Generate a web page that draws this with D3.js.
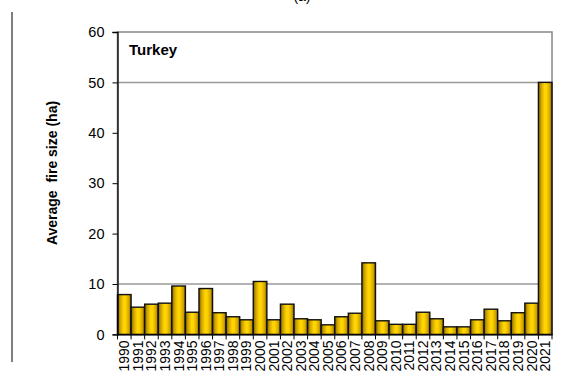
<!DOCTYPE html>
<html><head><meta charset="utf-8">
<script src="https://cdn.jsdelivr.net/npm/d3@7"></script>
<style>body{margin:0;background:#fff}svg{display:block}</style>
</head><body>
<script>
const years = ["1990","1991","1992","1993","1994","1995","1996","1997","1998","1999","2000","2001","2002","2003","2004","2005","2006","2007","2008","2009","2010","2011","2012","2013","2014","2015","2016","2017","2018","2019","2020","2021"];
const avgFireSize = [7.9,5.4,6.0,6.2,9.6,4.4,9.1,4.3,3.5,2.9,10.5,2.9,6.0,3.1,2.9,1.9,3.5,4.2,14.2,2.7,2.0,2.0,4.4,3.1,1.5,1.5,2.9,5.0,2.7,4.3,6.2,50.0];
const yTicks = [0,10,20,30,40,50,60];
const gridValues = [10,50];

const W = 581, H = 383;
const m = {left:117.5, right:552, top:32, bottom:334.4};
const FONT = "Liberation Sans, Arial, sans-serif";
const svg = d3.select("body").append("svg").attr("width",W).attr("height",H);

const defs = svg.append("defs");
const g = defs.append("linearGradient").attr("id","gold").attr("x1","0").attr("x2","1").attr("y1","0").attr("y2","0");
[["0%","#7a5f00"],["20%","#d0a400"],["45%","#ffd600"],["60%","#ffd200"],["85%","#cfa300"],["100%","#6e5500"]]
  .forEach(([o,c])=>g.append("stop").attr("offset",o).attr("stop-color",c));

const x = d3.scaleBand().domain(years).range([m.left,m.right]).padding(0);
const y = d3.scaleLinear().domain([0,60]).range([m.bottom,m.top]);

// left decorative line
svg.append("line").attr("x1",12).attr("x2",12).attr("y1",12).attr("y2",362).attr("stroke","#000").attr("stroke-width",1);

// partial title (clipped at the top edge, as in the reference)
svg.append("text").attr("x",302).attr("y",0.5).attr("text-anchor","middle")
  .attr("font-family",FONT).attr("font-size",14).text("(a)");

// frame
svg.append("rect").attr("x",m.left).attr("y",m.top).attr("width",m.right-m.left).attr("height",m.bottom-m.top)
  .attr("fill","none").attr("stroke","#888").attr("stroke-width",1.5);

// gridlines
svg.selectAll(".grid").data(gridValues).join("line")
  .attr("x1",m.left).attr("x2",m.right).attr("y1",d=>y(d)).attr("y2",d=>y(d))
  .attr("stroke","#999").attr("stroke-width",1.5);

// bars
svg.selectAll(".bar").data(years).join("rect")
  .attr("x",d=>x(d)).attr("width",x.bandwidth())
  .attr("y",(d,i)=>y(avgFireSize[i])).attr("height",(d,i)=>y(0)-y(avgFireSize[i]))
  .attr("fill","url(#gold)").attr("stroke","#111").attr("stroke-width",1.4);

// y axis
const yAxis = svg.append("g").attr("transform",`translate(${m.left},0)`)
  .call(d3.axisLeft(y).tickValues(yTicks).tickSize(5).tickPadding(8));
yAxis.select(".domain").attr("stroke","#000").attr("stroke-width",1.3);
yAxis.selectAll("line").attr("stroke","#000");
yAxis.selectAll("text").attr("font-family",FONT).attr("font-size",14.5).attr("fill","#000");

// x axis
const xAxis = svg.append("g").attr("transform",`translate(0,${m.bottom})`)
  .call(d3.axisBottom(x).tickSize(5).tickSizeOuter(0));
xAxis.select(".domain").attr("stroke","#000").attr("stroke-width",1.3);
xAxis.selectAll(".tick line").attr("stroke","#000").attr("transform",`translate(${-x.bandwidth()/2},0)`);
xAxis.selectAll("text").attr("font-family",FONT).attr("font-size",14).attr("fill","#000")
  .attr("transform","rotate(-90)").attr("text-anchor","end").attr("x",-6).attr("y",0).attr("dy","0.35em");
xAxis.append("line").attr("x1",m.right).attr("x2",m.right).attr("y1",0).attr("y2",5).attr("stroke","#000");

// y axis title
svg.append("text").attr("transform","translate(57,173) rotate(-90)").attr("text-anchor","middle")
  .attr("xml:space","preserve").style("white-space","pre")
  .attr("font-family",FONT).attr("font-size",14).attr("font-weight","bold").text("Average  fire size (ha)");

// country label
svg.append("text").attr("x",129).attr("y",55).attr("font-family",FONT)
  .attr("font-size",15).attr("font-weight","bold").text("Turkey");
</script>
</body></html>
